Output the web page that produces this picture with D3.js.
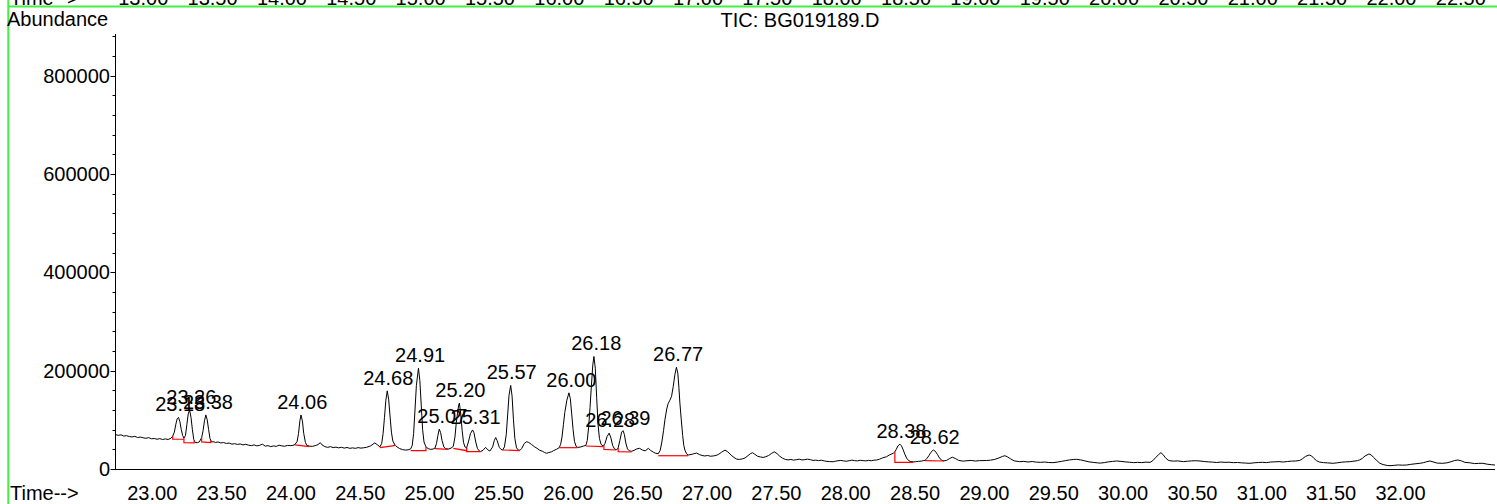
<!DOCTYPE html>
<html><head><meta charset="utf-8">
<script src="https://cdn.jsdelivr.net/npm/d3@7/dist/d3.min.js"></script>
<style>
body{margin:0;background:#fff;}
svg{display:block;}
text{font-family:"Liberation Sans",Arial,sans-serif;font-size:20px;fill:#000;}
</style>
</head><body>
<svg id="chart" width="1497" height="504"></svg>
<script>
// ---- DATA ----
const title = "TIC: BG019189.D";
const yTitle = "Abundance";
const xTitle = "Time-->";
const xTickLabels = ["23.00","23.50","24.00","24.50","25.00","25.50","26.00","26.50","27.00","27.50","28.00","28.50","29.00","29.50","30.00","30.50","31.00","31.50","32.00"];
const yTickLabels = [0, 200000, 400000, 600000, 800000];
const prevTickLabels = ["13.00","13.50","14.00","14.50","15.00","15.50","16.00","16.50","17.00","17.50","18.00","18.50","19.00","19.50","20.00","20.50","21.00","21.50","22.00","22.50"];

const peakRT   = ["23.18","23.26","23.38","24.06","24.68","24.91","25.07","25.20","25.31","25.57","26.00","26.18","26.28","26.39","26.77","28.38","28.62"];
const peakApex = [105000,120000,110000,110000,159000,205000,81000,134000,79500,170000,155000,229000,73000,78000,207000,50500,38700];

// integration baselines: [start time, start abundance, end time, end abundance]
const baselines = [
 [23.133,60500,23.214,60500],[23.214,53500,23.288,53000],[23.342,55000,23.407,53500],
 [24.014,48900,24.118,45400],[24.627,43400,24.743,48200],[24.849,37300,24.959,37300],
 [25.024,41300,25.120,40000],[25.156,42100,25.252,37300],[25.252,35200,25.353,35200],
 [25.512,38700,25.637,37300],[25.920,43400,26.053,43400],[26.112,46800,26.237,45400],
 [26.242,40000,26.329,38700],[26.345,35200,26.442,34600],[26.634,27000,26.850,27000],
 [28.340,13600,28.472,13600],[28.557,16900,28.694,16300]
];

// TIC trace [time (min), abundance]
const trace = [
[22.72,70000],[22.74,68500],[22.76,69500],[22.78,67000],[22.80,67800],[22.82,66000],[22.84,65200],[22.86,66500],[22.88,64000],[22.90,65000],[22.92,63500],[22.94,62500],[22.96,63800],[22.98,61500],[23.00,62000],[23.02,60500],[23.04,61800],[23.06,60000],[23.08,61200],[23.10,60000],[23.12,62500],
[23.133,67000],[23.145,75000],[23.155,90000],[23.165,102000],[23.175,105000],[23.185,96000],[23.195,80000],[23.205,68000],[23.214,63000],[23.225,68000],[23.235,90000],[23.245,112000],[23.255,120000],[23.265,105000],[23.275,80000],[23.285,60000],[23.295,54000],[23.31,53500],[23.325,55000],[23.342,64000],[23.352,78000],[23.362,98000],[23.372,110000],[23.382,100000],[23.392,80000],[23.402,62000],[23.412,55000],[23.43,55500],
[23.44,54000],[23.46,55000],[23.48,53000],[23.50,53800],[23.52,52000],[23.54,52800],[23.56,50500],[23.58,51500],[23.60,50000],[23.62,51000],[23.64,49000],[23.66,50200],[23.68,48500],[23.70,47500],[23.72,49000],[23.74,47000],[23.76,48200],[23.78,50500],[23.80,46500],[23.82,47500],[23.84,45500],[23.86,47000],[23.88,46000],[23.90,48500],[23.92,47000],[23.94,46200],[23.96,48000],[23.98,47500],[24.00,48000],
[24.015,50000],[24.03,56000],[24.04,72000],[24.05,98000],[24.058,110000],[24.068,98000],[24.078,72000],[24.09,54000],[24.10,48000],[24.12,46500],[24.14,46000],[24.16,47500],[24.18,49500],[24.197,53500],[24.21,49000],[24.23,45500],[24.25,44000],[24.27,45500],[24.29,43500],[24.31,44500],[24.33,43000],[24.35,44200],[24.37,42500],[24.39,43800],[24.41,42000],[24.43,43000],[24.45,42000],[24.47,43500],[24.49,42500],[24.51,43200],[24.53,44000],[24.56,47000],[24.59,53000],[24.61,49000],[24.627,45000],
[24.64,52000],[24.65,72000],[24.66,105000],[24.67,140000],[24.68,159000],[24.69,142000],[24.70,108000],[24.71,75000],[24.72,57000],[24.735,49000],[24.75,45000],[24.77,41500],[24.79,39500],[24.81,38500],[24.83,39000],[24.849,41000],
[24.86,48000],[24.87,72000],[24.88,120000],[24.89,170000],[24.905,205000],[24.915,180000],[24.925,130000],[24.935,80000],[24.945,55000],[24.959,45000],[24.975,41500],[24.99,40000],[25.01,40500],
[25.024,42500],[25.035,52000],[25.045,68000],[25.055,81000],[25.065,74000],[25.075,58000],[25.088,45000],[25.10,41500],[25.12,40500],[25.14,42500],
[25.156,46000],[25.168,65000],[25.178,95000],[25.186,112000],[25.195,130000],[25.20,134000],[25.21,112000],[25.22,78000],[25.23,54000],[25.24,45000],[25.252,43000],
[25.265,55000],[25.28,72000],[25.295,79500],[25.305,74000],[25.318,55000],[25.33,42000],[25.342,37000],[25.353,35500],[25.37,38000],[25.389,44000],[25.405,39000],[25.42,36500],[25.44,45000],[25.452,58000],[25.462,64000],[25.472,58000],[25.488,44000],[25.50,40000],
[25.512,38500],[25.525,45000],[25.538,70000],[25.548,110000],[25.558,150000],[25.57,170000],[25.58,148000],[25.59,100000],[25.60,62000],[25.612,43000],[25.625,38500],[25.637,38000],
[25.65,42000],[25.668,52000],[25.685,55500],[25.70,54000],[25.72,50000],[25.74,45500],[25.76,42000],[25.78,38000],[25.80,36000],[25.815,33500],[25.829,32000],[25.845,33500],[25.865,35000],[25.88,37500],[25.90,40000],
[25.92,43500],[25.93,50000],[25.94,65000],[25.95,90000],[25.96,115000],[25.975,140000],[25.99,155000],[26.00,143000],[26.01,112000],[26.02,80000],[26.03,56000],[26.042,46000],[26.053,44000],[26.07,44500],[26.093,46500],
[26.112,48000],[26.122,58000],[26.132,85000],[26.142,125000],[26.152,170000],[26.162,212000],[26.17,229000],[26.18,205000],[26.19,145000],[26.20,90000],[26.21,62000],[26.222,50000],[26.237,46500],
[26.25,52000],[26.265,66000],[26.28,73000],[26.293,63000],[26.305,48000],[26.318,41000],[26.334,39000],
[26.345,43000],[26.357,58000],[26.37,75000],[26.38,78000],[26.39,70000],[26.40,53000],[26.412,41000],[26.425,37000],[26.442,36000],
[26.46,38000],[26.48,41000],[26.50,42000],[26.52,38500],[26.54,37000],[26.562,42000],[26.58,37500],[26.60,34000],[26.615,32000],[26.634,31000],
[26.648,38000],[26.66,55000],[26.672,78000],[26.682,100000],[26.695,122000],[26.705,133000],[26.718,140000],[26.73,148000],[26.742,168000],[26.754,192000],[26.765,207000],[26.775,195000],[26.783,165000],[26.79,134000],[26.80,100000],[26.81,68000],[26.818,48000],[26.826,38500],[26.838,31000],[26.85,28500],
[26.87,29500],[26.89,31000],[26.91,32500],[26.93,29500],[26.95,27500],[26.97,26500],[26.99,27500],[27.01,26000],[27.03,26500],[27.05,27500],[27.07,30000],[27.09,34000],[27.115,38500],[27.135,35000],[27.16,28000],[27.18,23500],[27.20,20000],[27.22,19500],[27.24,20500],[27.26,22500],[27.28,27000],[27.30,31500],[27.314,33000],[27.33,30000],[27.35,26000],[27.37,24500],[27.39,23500],[27.41,25000],[27.43,27500],[27.45,31500],[27.47,35000],[27.49,31500],[27.51,26000],[27.53,22000],[27.55,19500],[27.57,18500],[27.59,19500],[27.61,18000],[27.63,19000],[27.65,20000],[27.67,18500],[27.69,19000],[27.71,20000],[27.73,19000],[27.75,17500],[27.77,18000],[27.79,17000],[27.81,18000],[27.83,16500],[27.85,15500],[27.87,15000],[27.895,14800],[27.91,15800],[27.93,16800],[27.95,17500],[27.97,16500],[27.99,15800],[28.01,16800],[28.03,18000],[28.05,17000],[28.07,16500],[28.09,17800],[28.11,17000],[28.13,16500],[28.15,17500],[28.17,16800],[28.19,18000],[28.208,18300],[28.23,20000],[28.25,22500],[28.28,25000],[28.30,28500],[28.328,32000],
[28.34,35000],[28.35,40000],[28.362,47000],[28.376,50500],[28.388,47000],[28.40,39000],[28.412,30000],[28.425,22000],[28.44,17000],[28.455,15000],[28.472,14500],[28.49,14800],[28.51,15500],[28.53,16000],[28.544,17000],
[28.557,17500],[28.57,21000],[28.585,27000],[28.60,34000],[28.617,38700],[28.632,36000],[28.648,29000],[28.665,21000],[28.68,17500],[28.694,16500],
[28.713,17500],[28.733,21000],[28.754,24000],[28.775,21500],[28.80,17500],[28.833,16000],[28.86,16800],[28.89,17500],[28.92,16200],[28.95,17000],[29.00,17200],[29.03,18000],[29.06,19500],[29.09,22500],[29.115,25500],[29.133,27000],[29.15,25000],[29.175,20500],[29.20,16500],[29.24,14900],[29.27,15500],[29.30,14200],[29.33,15200],[29.36,14000],[29.39,13500],[29.42,14200],[29.45,13200],[29.48,12900],[29.51,14000],[29.54,15500],[29.57,17000],[29.60,18500],[29.63,19500],[29.65,19700],[29.68,18500],[29.71,16500],[29.74,14500],[29.77,13500],[29.80,12500],[29.82,12000],[29.85,13000],[29.88,14500],[29.91,15500],[29.94,16300],[29.97,15500],[30.00,14500],[30.03,13800],[30.06,13000],[30.09,13500],[30.12,13000],[30.15,14000],[30.18,13500],
[30.20,17000],[30.22,23000],[30.24,29000],[30.258,33200],[30.275,29000],[30.29,23000],[30.31,18000],[30.323,16800],[30.35,16000],[30.38,16500],[30.42,15000],[30.45,15800],[30.48,16500],[30.51,16800],[30.54,16300],[30.57,15200],[30.60,14500],[30.63,14000],[30.66,13200],[30.69,14200],[30.72,13500],[30.75,13800],[30.78,12900],[30.81,13300],[30.84,12500],[30.87,12000],[30.90,11600],[30.93,12600],[30.96,13200],[30.99,13600],[31.02,13000],[31.05,14200],[31.08,14600],[31.11,15000],[31.14,14200],[31.17,15200],[31.20,16000],[31.23,16300],[31.26,17500],
[31.28,21000],[31.30,25500],[31.327,28500],[31.345,26500],[31.36,22000],[31.38,17000],[31.40,14200],[31.43,13000],[31.46,12400],[31.50,11600],[31.53,12600],[31.56,13800],[31.59,14500],[31.62,14900],[31.65,16000],[31.675,17000],[31.69,18300],
[31.71,21500],[31.73,26500],[31.758,30500],[31.775,28500],[31.79,24000],[31.81,18500],[31.837,11600],[31.86,9000],[31.89,7200],[31.91,6700],[31.94,7500],[31.97,8200],[32.00,7800],[32.03,8100],[32.06,9500],[32.09,10500],[32.125,11600],[32.15,12800],[32.175,14800],[32.198,16300],[32.22,14500],[32.25,12000],[32.29,11600],[32.32,12500],[32.35,14800],[32.375,17200],[32.40,18300],[32.425,16500],[32.45,13500],[32.486,12600],[32.52,11000],[32.55,11500],[32.58,11600],[32.61,9800],[32.64,8800],[32.667,8100]
];

// ---- DRAW ----
const svg = d3.select("#chart");
const x = d3.scaleLinear().domain([22.717, 32.667]).range([115, 1495]);
const y = d3.scaleLinear().domain([0, 885000]).range([469, 34]);
const xPrev = d3.scaleLinear().domain([12.782, 22.732]).range([115, 1495]);

// green frame
svg.append("line").attr("x1", 8.3).attr("x2", 1497).attr("y1", 6.5).attr("y2", 6.5)
  .attr("stroke", "#44f044").attr("stroke-width", 2);
svg.append("line").attr("x1", 8.3).attr("x2", 8.3).attr("y1", 0).attr("y2", 504)
  .attr("stroke", "#44f044").attr("stroke-width", 2);

// partial previous axis labels at top
svg.append("text").attr("x", 10).attr("y", 4.5).text(xTitle);
svg.selectAll("text.prev").data(prevTickLabels).join("text").attr("class", "prev")
  .attr("x", d => xPrev(+d) - 2).attr("y", 4.5).attr("text-anchor", "middle").text(d => d);

// titles
svg.append("text").attr("x", 7).attr("y", 26).text(yTitle);
svg.append("text").attr("x", 800).attr("y", 27).attr("text-anchor", "middle").text(title);
svg.append("text").attr("x", 10).attr("y", 500).text(xTitle);

// y axis
const gy = svg.append("g").attr("stroke", "#000").attr("stroke-width", 1);
gy.append("line").attr("x1", 115.5).attr("x2", 115.5).attr("y1", 34).attr("y2", 469.5);
const yMinor = d3.range(40000, 885000, 40000);
gy.selectAll("line.ym").data(yMinor).join("line").attr("class", "ym")
  .attr("x1", 112.5).attr("x2", 115.5).attr("y1", d => Math.round(y(d)) + 0.5).attr("y2", d => Math.round(y(d)) + 0.5);
gy.selectAll("line.yM").data(yTickLabels).join("line").attr("class", "yM")
  .attr("x1", 110.5).attr("x2", 115.5).attr("y1", d => Math.round(y(d)) + 0.5).attr("y2", d => Math.round(y(d)) + 0.5);
svg.selectAll("text.yl").data(yTickLabels).join("text").attr("class", "yl")
  .attr("x", 110).attr("y", d => y(d) + 7).attr("text-anchor", "end").text(d => d);

// x axis
const gx = svg.append("g").attr("stroke", "#000").attr("stroke-width", 1);
gx.append("line").attr("x1", 115).attr("x2", 1495).attr("y1", 469.5).attr("y2", 469.5);
const xMinor = d3.range(228, 3267, 10).map(d => d / 100 * 10 / 10).map(d => +(d / 10).toFixed(2));
gx.selectAll("line.xm").data(xMinor).join("line").attr("class", "xm")
  .attr("x1", d => Math.round(x(d)) + 0.5).attr("x2", d => Math.round(x(d)) + 0.5)
  .attr("y1", 469.5).attr("y2", d => (Math.round(d * 10) % 5 === 0) ? 479.5 : 474);
svg.selectAll("text.xl").data(xTickLabels).join("text").attr("class", "xl")
  .attr("x", d => x(+d) - 2).attr("y", 500).attr("text-anchor", "middle").text(d => d);

// trace
const line = d3.line().x(d => x(d[0])).y(d => y(d[1]));
svg.append("path").datum(trace).attr("d", line)
  .attr("fill", "none").attr("stroke", "#000").attr("stroke-width", 1).attr("stroke-linejoin", "round");

// integration baselines
const bis = d3.bisector(d => d[0]).left;
function traceAt(t) {
  const i = Math.max(1, Math.min(trace.length - 1, bis(trace, t)));
  const a = trace[i - 1], b = trace[i];
  return a[1] + (b[1] - a[1]) * (t - a[0]) / (b[0] - a[0]);
}
baselines.forEach(b => {
  const pts = [];
  const ts = traceAt(b[0]), te = traceAt(b[2]);
  if (Math.abs(y(ts) - y(b[1])) > 2) pts.push([b[0], ts]);
  pts.push([b[0], b[1]], [b[2], b[3]]);
  if (Math.abs(y(te) - y(b[3])) > 2) pts.push([b[2], te]);
  svg.append("path").datum(pts).attr("d", line)
    .attr("fill", "none").attr("stroke", "#ff0000").attr("stroke-width", 1.2);
});

// peak labels
svg.selectAll("text.pk").data(peakRT).join("text").attr("class", "pk")
  .attr("x", d => x(+d) + 1).attr("y", (d, i) => y(peakApex[i]) - 6)
  .attr("text-anchor", "middle").text(d => d);
</script>
</body></html>
